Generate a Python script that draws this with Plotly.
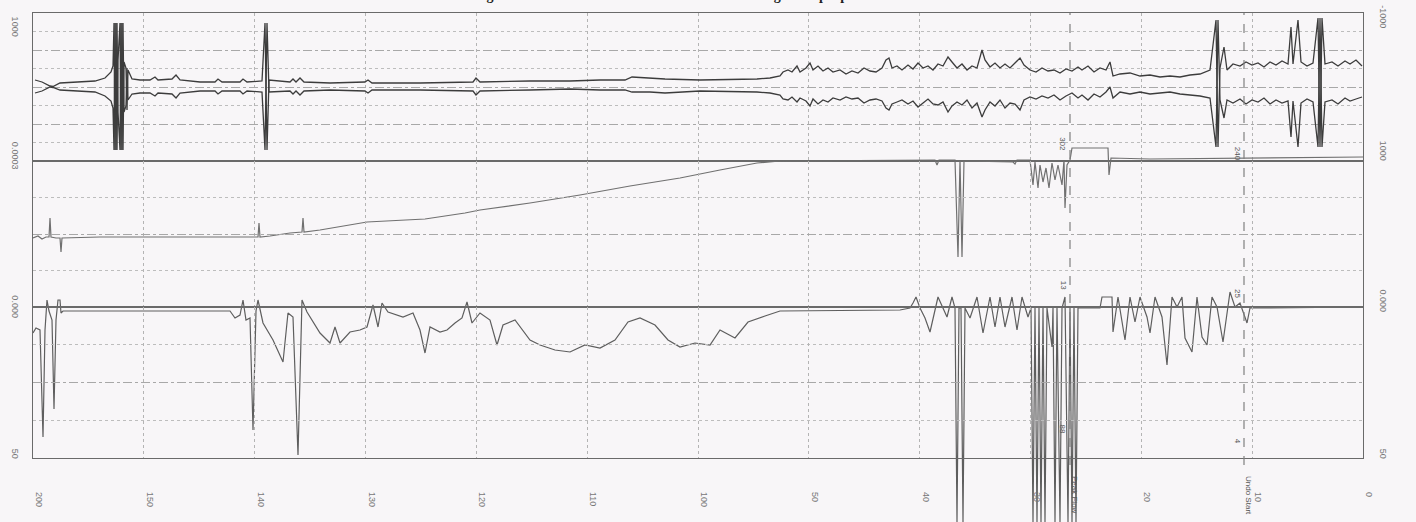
import plotly.graph_objects as go

# ---------------- data ----------------
# x: position along the chart strip (0 = left edge of grid, 1330 = right edge)
X_MAX = 1330
N_DIV = 12
TIME_LABELS = ["200", "150", "140", "130", "120", "110", "100", "50", "40", "30", "20", "10", "0"]

# channel 1: envelope (upper / lower pen) - deflection units, centre = 0
CH1_X = [2, 9, 17, 20, 27, 42, 62, 72, 78, 80, 81, 82, 83, 84, 85, 87, 88, 89, 90, 91, 93, 94, 95, 99,
         107, 117, 122, 125, 139, 143, 147, 167, 182, 185, 189, 207, 210, 214, 229, 232, 234, 236, 257,
         260, 263, 267, 271, 297, 332, 335, 339, 387, 440, 443, 447, 497, 537, 567, 592, 599, 617, 632,
         667, 724, 737, 747, 750, 755, 759, 764, 767, 773, 777, 780, 785, 790, 795, 800, 807, 813, 819,
         825, 831, 837, 843, 849, 853, 856, 859, 864, 869, 875, 880, 885, 890, 895, 900, 905, 910, 915,
         919, 924, 929, 934, 939, 944, 949, 952, 957, 962, 967, 972, 977, 982, 987, 991, 997, 1003, 1009,
         1015, 1021, 1027, 1033, 1039, 1045, 1049, 1055, 1061, 1067, 1073, 1077, 1080, 1087, 1097, 1107,
         1117, 1127, 1137, 1147, 1157, 1167, 1177, 1183, 1185, 1187, 1191, 1194, 1200, 1207, 1213, 1219,
         1225, 1231, 1237, 1243, 1249, 1255, 1258, 1260, 1265, 1268, 1274, 1280, 1285, 1287, 1289, 1292,
         1299, 1305, 1312, 1317, 1323, 1329]
CH1_UPPER = [7, 5, 1, 0.5, 4, 5, 6, 9, 15, 21, 64, -63, 64, -63, 27, 64, -63, 64, -63, 25, 19, -23, 17, 8,
             7, 7, 10, 7, 8, 12, 7, 5, 5, 8, 5, 5, 8, 5, 6, 64, -63, 7, 5,
             8, 5, 9, 5, 4, 5, 7, 4, 4, 5, 9, 5, 6, 6, 7, 7, 10, 9, 8,
             7, 8, 9, 11, 15, 17, 15, 21, 15, 19, 24, 17, 21, 16, 19, 15, 17, 13, 16,
             14, 19, 16, 15, 19, 27, 29, 19, 21, 17, 22, 18, 24, 19, 21, 17, 23, 21, 30,
             25, 19, 23, 17, 21, 19, 37, 27, 20, 24, 19, 23, 19, 24, 29, 22, 17, 15, 19,
             16, 17, 14, 18, 16, 20, 17, 21, 15, 19, 17, 25, 11, 13, 14, 11,
             12, 10, 11, 10, 12, 13, 17, 67, -60, 19, 40, 17, 23, 21, 25, 22,
             24, 20, 25, 22, 26, 23, 60, 23, 67, 25, 21, 24, 69, -60, 69, 23,
             25, 21, 26, 23, 27, 21]
CH1_LOWER = [-6, -4, 0, -0.5, -3, -4, -5, -9, -14, -21, -63, 64, -63, 64, -25, -63, 64, -63, 64, -25, -19, 19, -13, -7,
             -6, -6, -9, -6, -7, -11, -6, -4, -4, -7, -4, -4, -7, -4, -5, -63, 64, -5, -4,
             -7, -4, -8, -4, -3, -4, -6, -3, -3, -4, -8, -4, -3, -2, -3, -3, -5, -5, -6,
             -4, -5, -6, -8, -12, -13, -10, -15, -11, -14, -19, -12, -17, -13, -15, -11, -13, -10, -12,
             -11, -16, -13, -12, -14, -21, -23, -17, -15, -13, -17, -14, -20, -16, -12, -17, -18, -15, -25,
             -19, -15, -18, -13, -21, -16, -30, -23, -15, -19, -13, -21, -16, -17, -23, -13, -10, -12, -9,
             -11, -8, -13, -9, -6, -11, -8, -13, -7, -10, -5, 0, -11, -5, -7, -5,
             -7, -6, -5, -7, -8, -9, -11, -60, 67, -13, -31, -13, -16, -12, -17, -13,
             -15, -11, -17, -13, -16, -14, -50, -14, -60, -16, -12, -15, -60, 69, -60, -15,
             -13, -17, -11, -14, -12, -10]

# channel 2: slow ramp with spikes
CH2_X = [0, 5, 9, 13, 16, 17, 18, 23, 27, 28, 29, 67, 167, 222, 225, 226, 227, 237, 257, 269, 270, 271,
         287, 334, 367, 392, 432, 447, 497, 547, 597, 647, 687, 724, 747, 867, 902, 904, 906, 922, 925,
         927, 929, 931, 980, 982, 984, 997, 1000, 1002, 1005, 1007, 1010, 1013, 1016, 1019, 1022, 1025,
         1029, 1031, 1032, 1034, 1037, 1039, 1075, 1076, 1078, 1117, 1211, 1330]
CH2_Y = [69, 71, 68, 70, 70, 89, 70, 69, 69, 55, 69, 70, 70, 70, 70, 84, 70, 71, 74, 75, 89, 75,
         77, 85, 87, 88, 94, 97, 104, 112, 121, 129, 137, 144, 146, 147, 147, 142, 147, 147, 50,
         147, 50, 146, 145, 143, 147, 147, 122, 145, 119, 142, 125, 139, 119, 144, 127, 142,
         122, 147, 99, 142, 147, 159, 159, 132, 149, 148, 149, 150]

# channel 3: baseline with downward excursions
CH3_X = [0, 3, 7, 10, 12, 14, 16, 19, 21, 23, 25, 27, 28, 30, 117, 197, 202, 207, 210, 213, 217, 220,
         223, 225, 230, 240, 250, 255, 260, 265, 269, 274, 287, 297, 302, 307, 317, 327, 334, 340, 345,
         349, 355, 370, 380, 387, 392, 397, 407, 414, 422, 429, 434, 439, 447, 457, 464, 470, 482, 497,
         507, 522, 537, 552, 567, 582, 595, 607, 622, 635, 647, 662, 677, 687, 702, 715, 732, 747, 867,
         877, 880, 883, 887, 892, 897, 905, 914, 919, 922, 924, 926, 928, 930, 932, 937, 944, 950, 957,
         962, 967, 972, 979, 984, 989, 995, 998, 1000, 1002, 1004, 1006, 1008, 1010, 1012, 1014, 1019,
         1020, 1022, 1024, 1027, 1029, 1032, 1035, 1037, 1039, 1041, 1043, 1045, 1050, 1067, 1069, 1079,
         1080, 1085, 1092, 1097, 1102, 1107, 1114, 1117, 1122, 1129, 1134, 1139, 1144, 1149, 1152, 1159,
         1164, 1169, 1174, 1179, 1184, 1190, 1197, 1202, 1207, 1214, 1217, 1330]
CH3_Y = [125, 130, 128, 21, 128, 158, 147, 138, 49, 138, 158, 158, 145, 147, 147, 147, 140, 143, 158, 138, 140, 28,
         147, 158, 135, 118, 96, 145, 141, 3, 158, 146, 125, 115, 131, 115, 126, 128, 131, 153, 131,
         155, 146, 141, 145, 128, 105, 131, 126, 128, 135, 140, 156, 135, 145, 138, 113, 133, 138, 118,
         113, 108, 106, 113, 110, 118, 136, 140, 133, 118, 111, 115, 113, 128, 120, 136, 142, 147, 148,
         150, 155, 161, 150, 140, 126, 161, 141, 161, 150, -64, 150, 150, -64, 150, 140, 161, 125, 161,
         131, 161, 131, 161, 128, 161, 141, 150, -64, 150, -64, 150, -64, 150, -64, 150, 111,
         150, -64, 150, -64, 150, 161, -64, 150, -64, 150, -64, 150, 150, 150, 161, 161,
         126, 161, 118, 161, 136, 161, 141, 125, 161, 141, 93, 161, 151, 161, 120, 106,
         161, 121, 113, 161, 151, 116, 166, 151, 155, 135, 150, 151]

# axis scale labels (left / right margins)
LEFT_LABELS = ["1000", "0.0003", "0.000", "50"]
RIGHT_LABELS = ["-1000", "1000", "0.000", "50"]

# event markers
EVENT_X = [1037, 1211]
EVENT_NAMES = ["Peak Flow", "Undo Start"]
EVENT_NOTES = [["302", "13", "88"], ["240", "25", "4"]]

TITLE = "Figure 6. Chart record of the three channels during a sample peak flow test"

# ---------------- styling ----------------
PAPER = "#f8f6f8"
INK = "#3c3c3c"
FRAME = "#6a6a6a"
GRID = "#a8a8a8"
GRID2 = "#bdbdbd"
LABEL = "#777777"
FONT = "Liberation Sans Narrow, Liberation Sans, Arial, sans-serif"

D1 = [0.70923, 1.0]
D2 = [0.42240, 0.70923]
D3 = [0.12574, 0.42240]

fig = go.Figure()
common = dict(mode="lines", showlegend=False, hoverinfo="skip")
fig.add_trace(go.Scatter(x=CH1_X, y=CH1_UPPER, xaxis="x", yaxis="y", line=dict(color=INK, width=1.3), **common))
fig.add_trace(go.Scatter(x=CH1_X, y=CH1_LOWER, xaxis="x", yaxis="y", line=dict(color=INK, width=1.3), **common))
fig.add_trace(go.Scatter(x=CH2_X, y=CH2_Y, xaxis="x2", yaxis="y5", line=dict(color="#707070", width=1.2), **common))
fig.add_trace(go.Scatter(x=CH3_X, y=CH3_Y, xaxis="x2", yaxis="y6", line=dict(color="#5e5e5e", width=1.2), **common))
# empty placeholders so that the grid / label subplots are created
for xa, ya in [("x3", "y2"), ("x4", "y3"), ("x5", "y10"), ("x5", "y11")]:
    fig.add_trace(go.Scatter(x=[], y=[], xaxis=xa, yaxis=ya, **common))


def grid_y(domain, rng, major, minor, anchor):
    return dict(domain=domain, range=rng, anchor=anchor, tick0=0, dtick=major,
                showticklabels=False, ticks="", zeroline=False,
                showline=True, mirror=True, linecolor=FRAME, linewidth=1.2,
                showgrid=True, gridcolor=GRID, griddash="dashdot", gridwidth=1,
                minor=dict(tick0=0, dtick=minor, showgrid=True, gridcolor=GRID2,
                           griddash="dot", gridwidth=1, ticks=""))


tickfont = dict(family=FONT, size=9, color=LABEL)


def grid_x(anchor, labels, match=True):
    d = dict(range=[0, X_MAX], anchor=anchor, tickmode="array",
             tickvals=[i * X_MAX / N_DIV for i in range(N_DIV + 1)],
             showgrid=True, gridcolor="#b4b4b4", griddash="dot", gridwidth=1.2,
             showline=True, mirror=True, linecolor=FRAME, linewidth=1.2, zeroline=False,
             automargin=False)
    if match:
        d["matches"] = "x"
    if labels:
        d.update(ticktext=TIME_LABELS, showticklabels=True, tickangle=90, ticks="outside",
                 ticklen=31, tickcolor="rgba(0,0,0,0)", tickfont=tickfont, ticklabelshift=6)
    else:
        d.update(showticklabels=False, ticks="")
    return d


fig.update_layout(
    width=1416, height=522,
    margin=dict(l=33, r=53, t=13, b=0),
    paper_bgcolor=PAPER, plot_bgcolor="rgba(0,0,0,0)",
    showlegend=False,
    xaxis=grid_x("y", False, match=False),
    xaxis3=grid_x("y2", False),
    xaxis4=grid_x("y3", True),
    yaxis=grid_y(D1, [-74, 74], 37, 18.5, "x"),
    yaxis2=grid_y(D2, [0, 146], 73, 36.5, "x3"),
    yaxis3=grid_y(D3, [0, 151], 75.5, 37.75, "x4"),
    xaxis2=dict(range=[0, X_MAX], matches="x", anchor="y6", visible=False),
    yaxis5=dict(domain=[0.42240, 1.0], range=[0, 294], anchor="x2", visible=False),
    yaxis6=dict(domain=[0.0, 0.5], range=[-64, 190.5], anchor="x2", visible=False),
    xaxis5=dict(range=[0, X_MAX], matches="x", anchor="y10", visible=False),
    yaxis10=dict(domain=[0.12574, 1.0], range=[0, 445], anchor="x5", tickmode="array",
                 tickvals=[430, 301, 150, 3], ticktext=LEFT_LABELS, tickangle=90,
                 ticks="outside", ticklen=9, tickcolor="rgba(0,0,0,0)", tickfont=tickfont,
                 showgrid=False, zeroline=False, showline=False, automargin=False),
    yaxis11=dict(overlaying="y10", side="right", range=[0, 445], anchor="x5", tickmode="array",
                 tickvals=[440, 306, 156, 3], ticktext=RIGHT_LABELS, tickangle=90,
                 ticks="outside", ticklen=12, tickcolor="rgba(0,0,0,0)", tickfont=tickfont,
                 showgrid=False, zeroline=False, showline=False, automargin=False),
)

# event markers (dashed verticals + labels)
note_levels = [[0.760, 0.466, 0.171], [0.741, 0.450, 0.151]]
for ex, name, notes, levels in zip(EVENT_X, EVENT_NAMES, EVENT_NOTES, note_levels):
    fig.add_shape(type="line", xref="x", yref="paper", x0=ex, x1=ex, y0=0.112, y1=1.0,
                  line=dict(color="#808080", width=1.2, dash="dash"))
    fig.add_annotation(x=ex + 5, y=0.053, xref="x", yref="paper", yanchor="middle",
                       text=name, textangle=90,
                       showarrow=False, font=dict(family=FONT, size=8, color="#555555"))
    for t, lv in zip(notes, levels):
        fig.add_annotation(x=ex - 7, y=lv, xref="x", yref="paper", text=t, textangle=90,
                           showarrow=False, font=dict(family=FONT, size=8, color="#555555"))

# title (cut off at the top edge of the scan, as in the source image)
fig.add_annotation(x=0.5, y=1.0157, xref="paper", yref="paper", yanchor="bottom",
                   text="<b>" + TITLE + "</b>", showarrow=False,
                   font=dict(family="Liberation Serif, serif", size=14, color="#222222"))

fig.write_html("out.html")
